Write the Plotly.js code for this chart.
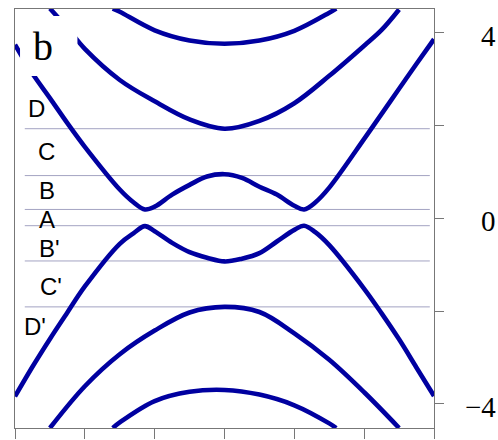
<!DOCTYPE html>
<html>
<head>
<meta charset="utf-8">
<script src="https://cdn.plot.ly/plotly-3.0.1.min.js"></script>
<style>
  html, body { margin: 0; padding: 0; background: #ffffff; }
  #plot { width: 498px; height: 440px; }
</style>
</head>
<body>
<div id="plot"></div>
<script>
// Band energies E(k) for the six bands, read along the wave-vector axis
const kB = [-3, -2.75, -2.5, -2.25, -2, -1.5, -1.3, -1.14, -1, -0.75, -0.5, -0.25, 0,
            0.25, 0.5, 0.75, 1, 1.14, 1.3, 1.5, 2, 2.25, 2.5, 2.75, 3];
const bandB = [3.74, 3.12, 2.59, 2.05, 1.54, 0.62, 0.34, 0.19, 0.25, 0.51, 0.72, 0.90, 0.95,
               0.87, 0.68, 0.51, 0.27, 0.19, 0.34, 0.66, 1.71, 2.25, 2.79, 3.33, 3.86];
const bandBp = [-3.84, -3.20, -2.60, -2.03, -1.47, -0.55, -0.32, -0.17, -0.28, -0.53, -0.73, -0.85, -0.93,
                -0.87, -0.75, -0.50, -0.25, -0.16, -0.30, -0.58, -1.52, -2.05, -2.61, -3.22, -3.83];

const kC = [-2.5, -2.25, -2, -1.5, -1, -0.5, 0, 0.5, 1, 1.5, 2, 2.25, 2.5];
const bandC = [4.52, 4.10, 3.65, 2.98, 2.52, 2.13, 1.93, 2.10, 2.48, 3.07, 3.72, 4.06, 4.50];

const kCp = [-2.5, -2, -1.5, -1, -0.5, 0, 0.5, 1, 1.5, 2, 2.5];
const bandCp = [-4.52, -3.62, -2.93, -2.42, -2.03, -1.91, -2.02, -2.48, -3.05, -3.75, -4.52];

const kD = [-1.6, -1.5, -1, -0.5, 0, 0.5, 1, 1.5, 1.6];
const bandD = [4.52, 4.45, 4.05, 3.83, 3.76, 3.83, 4.04, 4.43, 4.52];
const bandDp = [-4.52, -4.40, -3.94, -3.74, -3.70, -3.80, -4.03, -4.42, -4.52];

// Energy levels bounding the labelled windows
const levels = [1.93, 0.92, 0.19, -0.16, -0.92, -1.91];
const levelSpan = [-2.86, 2.94];

// Window labels
const windowLabels = ['D', 'C', 'B', 'A', "B'", "C'", "D'"];

// Axis ticks
const xTicks = [-3, -2, -1, 0, 1, 2, 3];
const yTicks = [-4, -2, 0, 2, 4];
const yLabelVals = [4, 0, -4];
const yLabelText = ['4', '0', '\u22124'];

const bandColor = '#0000a0';
const bandLine = { color: bandColor, width: 4.6, shape: 'spline', smoothing: 1 };

const traces = [];
levels.forEach(function (e) {
  traces.push({
    x: levelSpan, y: [e, e], mode: 'lines', hoverinfo: 'skip', showlegend: false,
    line: { color: '#a3a3c2', width: 1 }
  });
});
[[kD, bandD], [kC, bandC], [kB, bandB], [kB, bandBp], [kCp, bandCp], [kD, bandDp]].forEach(function (b) {
  traces.push({ x: b[0], y: b[1], mode: 'lines', showlegend: false, line: bandLine });
});

// label anchor points (k, E)
const labelPos = [[-2.69, 2.36], [-2.55, 1.43], [-2.54, 0.59], [-2.54, -0.02],
                  [-2.50, -0.65], [-2.49, -1.47], [-2.71, -2.33]];
const annotations = windowLabels.map(function (t, i) {
  return {
    text: t, xref: 'x', yref: 'y', x: labelPos[i][0], y: labelPos[i][1],
    xanchor: 'center', yanchor: 'middle', showarrow: false,
    font: { family: 'Liberation Sans, Arial, sans-serif', size: 24, color: '#000000' }
  };
});
yLabelVals.forEach(function (v, i) {
  annotations.push({
    text: yLabelText[i], xref: 'paper', yref: 'y', x: 1.1525, y: v, yshift: -3,
    xanchor: 'right', yanchor: 'middle', showarrow: false,
    font: { family: 'Liberation Serif, Times New Roman, serif', size: 29, color: '#000000' }
  });
});
annotations.push({
  text: 'b', xref: 'paper', yref: 'paper', x: 0.0668, y: 0.9105,
  xanchor: 'center', yanchor: 'middle', showarrow: false,
  font: { family: 'Liberation Serif, Times New Roman, serif', size: 40, color: '#000000' }
});

const layout = {
  width: 498, height: 440,
  margin: { l: 15, r: 64, t: 9, b: 12 },
  paper_bgcolor: '#ffffff', plot_bgcolor: '#ffffff',
  showlegend: false,
  xaxis: {
    range: [-3, 3], tickvals: xTicks, ticks: 'outside', ticklen: 10, tickcolor: '#777777',
    showticklabels: false, showgrid: false, zeroline: false,
    showline: true, linecolor: '#777777', linewidth: 1, mirror: true
  },
  yaxis: {
    side: 'right', range: [-4.52, 4.51], tickvals: yTicks, ticks: 'outside', ticklen: 9,
    tickcolor: '#777777', showticklabels: false, showgrid: false, zeroline: false,
    showline: true, linecolor: '#777777', linewidth: 1, mirror: true
  },
  shapes: [{
    type: 'rect', xref: 'paper', yref: 'paper', x0: 0.012, x1: 0.149, y0: 0.84, y1: 0.983,
    fillcolor: '#ffffff', line: { width: 0 }, layer: 'above'
  }],
  annotations: annotations
};

Plotly.newPlot('plot', traces, layout, { staticPlot: true, displayModeBar: false });
</script>
</body>
</html>
